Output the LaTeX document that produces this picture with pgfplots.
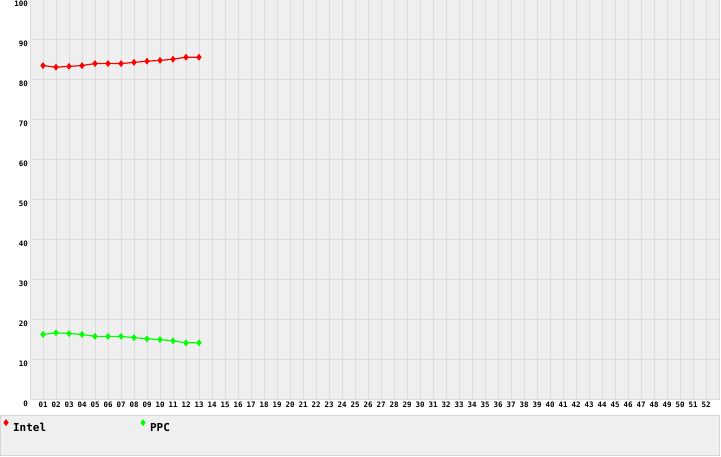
\documentclass[border=0pt]{standalone}
\usepackage{pgfplots}
\pgfplotsset{compat=1.18}
\usepackage{fontspec}
\setmainfont{DejaVu Sans}
\newfontfamily\monofont{DejaVu Sans Mono}
\definecolor{plotbg}{RGB}{239,239,239}
\definecolor{gridc}{RGB}{220,220,220}
\definecolor{legbd}{RGB}{212,212,212}
\definecolor{intelc}{RGB}{255,0,0}
\definecolor{ppcc}{RGB}{0,255,0}

\begin{document}
\begin{tikzpicture}[x=1bp,y=1bp]
\fill[white] (0,0) rectangle (721,457);
\useasboundingbox (0,0) rectangle (721,457);
\filldraw[fill=plotbg,draw=legbd,line width=1bp] (0.5,1.5) rectangle (719,41);
\begin{axis}[
  at={(30bp,57bp)}, anchor=south west,
  scale only axis, width=689bp, height=400bp,
  xmin=0, xmax=53, ymin=0, ymax=100,
  axis background/.style={fill=plotbg},
  axis line style={draw=gridc, line width=1bp},
  grid=major,
  major grid style={draw=gridc, line width=1bp},
  major tick length=0pt,
  xtick={1,...,52},
  xticklabels={01,02,03,04,05,06,07,08,09,10,11,12,13,14,15,16,17,18,19,20,
    21,22,23,24,25,26,27,28,29,30,31,32,33,34,35,36,37,38,39,40,
    41,42,43,44,45,46,47,48,49,50,51,52},
  ytick={0,10,...,100},
  /pgf/number format/assume math mode=true,
  ticklabel style={font=\monofont\bfseries\fontsize{7.5}{8}\selectfont},
  xticklabel style={anchor=north, inner sep=0pt, yshift=-2bp},
  yticklabel style={anchor=north east, inner sep=0pt, xshift=-2bp, yshift=-1bp},
  legend style={at={(-0.0378,-0.05)}, anchor=north west, draw=none, fill=none,
    inner sep=0pt, legend columns=2,
    font=\monofont\bfseries\fontsize{11}{12}\selectfont,
    /tikz/every even column/.append style={column sep=93bp}},
  legend cell align=left,
  legend image code/.code={\draw[#1] plot coordinates {(0bp,5bp)};
    \path (0bp,0bp) (4.5bp,0bp);},
]
\addplot[color=intelc, line width=1.2bp, mark=diamond*, mark size=2.5bp]
  coordinates {(1,83.6)(2,83.2)(3,83.4)(4,83.6)(5,84.1)(6,84.1)(7,84.1)
    (8,84.4)(9,84.7)(10,84.9)(11,85.2)(12,85.7)(13,85.7)};
\addlegendentry{Intel}
\addplot[color=ppcc, line width=1.2bp, mark=diamond*, mark size=2.5bp]
  coordinates {(1,16.4)(2,16.8)(3,16.6)(4,16.4)(5,15.9)(6,15.9)(7,15.9)
    (8,15.6)(9,15.3)(10,15.1)(11,14.8)(12,14.3)(13,14.3)};
\addlegendentry{PPC}
\end{axis}
\end{tikzpicture}
\end{document}
